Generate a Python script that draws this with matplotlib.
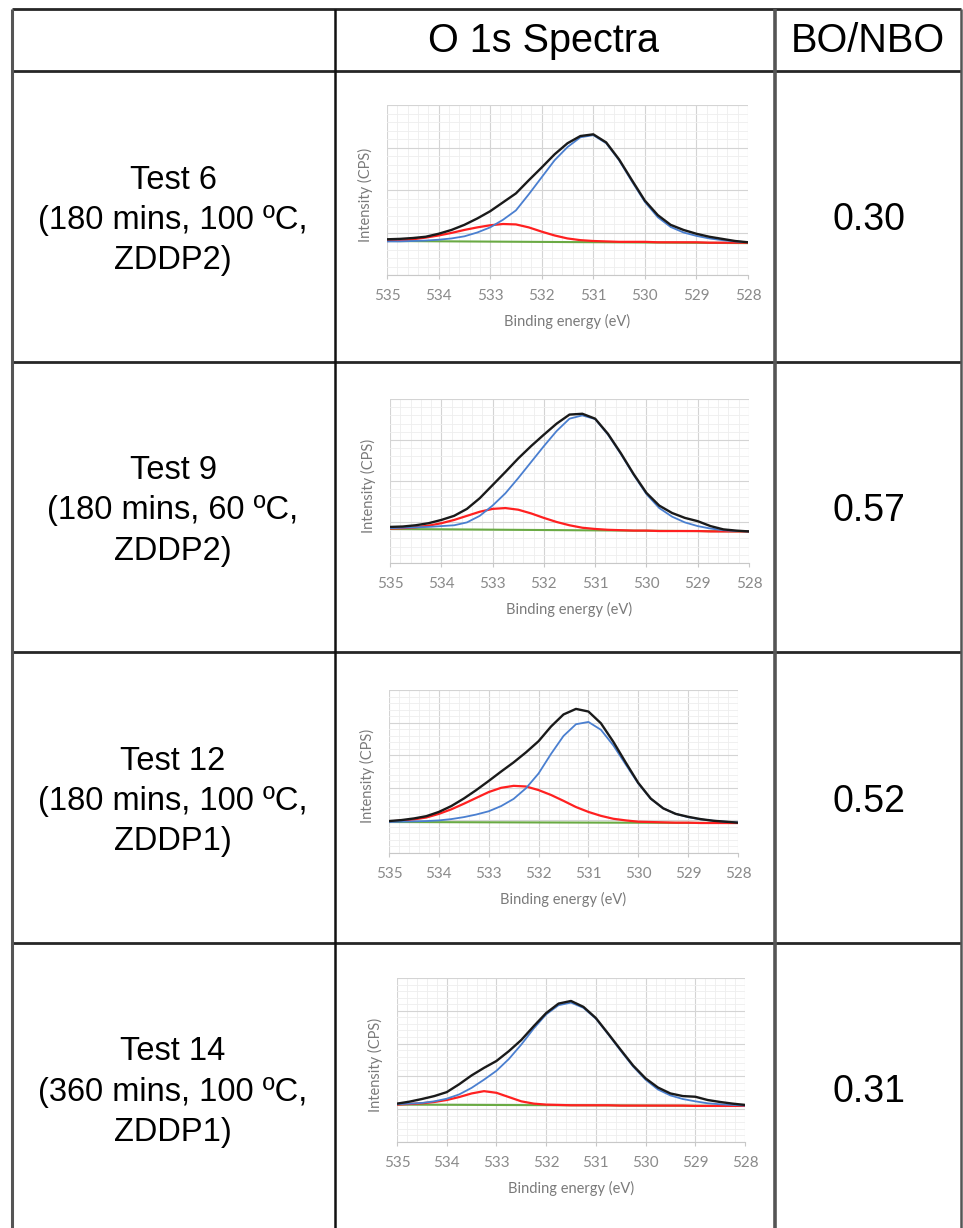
import matplotlib.pyplot as plt
from matplotlib.ticker import MultipleLocator

# binding energy grid (eV)
energy = [535.0, 534.75, 534.5, 534.25, 534.0, 533.75, 533.5, 533.25, 533.0,
          532.75, 532.5, 532.25, 532.0, 531.75, 531.5, 531.25, 531.0, 530.75,
          530.5, 530.25, 530.0, 529.75, 529.5, 529.25, 529.0, 528.75, 528.5,
          528.25, 528.0]

# Test 6
black1 = [0.84, 0.85, 0.87, 0.90, 0.97, 1.06, 1.18, 1.33, 1.50, 1.71, 1.92, 2.23, 2.53, 2.84, 3.10,
          3.27, 3.31, 3.12, 2.72, 2.23, 1.75, 1.41, 1.18, 1.06, 0.97, 0.90, 0.85, 0.80, 0.77]
blue1 = [0.79, 0.79, 0.80, 0.81, 0.83, 0.86, 0.91, 1.00, 1.12, 1.30, 1.52, 1.90, 2.30, 2.70, 3.01,
         3.24, 3.29, 3.10, 2.70, 2.20, 1.72, 1.36, 1.13, 1.00, 0.92, 0.86, 0.82, 0.79, 0.77]
red1 = [0.80, 0.81, 0.84, 0.88, 0.93, 0.99, 1.06, 1.12, 1.17, 1.20, 1.19, 1.12, 1.02, 0.93, 0.86,
        0.82, 0.80, 0.79, 0.78, 0.78, 0.78, 0.77, 0.77, 0.77, 0.77, 0.76, 0.76, 0.76, 0.76]
green1 = [0.80, 0.75]

# Test 9
black2 = [0.88, 0.89, 0.92, 0.97, 1.05, 1.15, 1.32, 1.58, 1.90, 2.22, 2.55, 2.85, 3.13, 3.40, 3.62,
          3.64, 3.52, 3.15, 2.68, 2.17, 1.71, 1.40, 1.22, 1.10, 1.02, 0.90, 0.82, 0.79, 0.77]
blue2 = [0.85, 0.86, 0.87, 0.88, 0.90, 0.92, 0.99, 1.15, 1.40, 1.70, 2.07, 2.46, 2.85, 3.22, 3.52,
         3.60, 3.51, 3.13, 2.66, 2.15, 1.68, 1.34, 1.13, 0.99, 0.90, 0.84, 0.80, 0.78, 0.77]
red2 = [0.84, 0.85, 0.87, 0.91, 0.97, 1.05, 1.15, 1.25, 1.32, 1.34, 1.30, 1.21, 1.10, 1.00, 0.92,
        0.86, 0.83, 0.81, 0.80, 0.79, 0.79, 0.78, 0.78, 0.78, 0.78, 0.77, 0.77, 0.77, 0.77]
green2 = [0.83, 0.77]

# Test 12
black3 = [0.98, 1.01, 1.06, 1.13, 1.26, 1.44, 1.67, 1.93, 2.21, 2.50, 2.78, 3.09, 3.43, 3.88, 4.25,
          4.42, 4.34, 3.98, 3.41, 2.77, 2.15, 1.67, 1.37, 1.20, 1.11, 1.04, 0.99, 0.96, 0.93]
blue3 = [0.95, 0.96, 0.97, 0.98, 1.00, 1.04, 1.10, 1.18, 1.28, 1.44, 1.66, 1.99, 2.44, 3.04, 3.59,
         3.95, 4.02, 3.78, 3.30, 2.71, 2.13, 1.66, 1.37, 1.20, 1.10, 1.03, 0.99, 0.96, 0.94]
red3 = [0.97, 0.99, 1.03, 1.09, 1.20, 1.34, 1.51, 1.69, 1.87, 2.00, 2.06, 2.04, 1.93, 1.78, 1.60,
        1.41, 1.26, 1.14, 1.05, 1.00, 0.96, 0.95, 0.94, 0.93, 0.93, 0.92, 0.92, 0.92, 0.92]
green3 = [0.95, 0.92]

# Test 14
black4 = [1.17, 1.23, 1.31, 1.40, 1.52, 1.76, 2.03, 2.26, 2.47, 2.77, 3.11, 3.53, 3.93, 4.22, 4.30,
          4.12, 3.78, 3.30, 2.81, 2.33, 1.94, 1.66, 1.48, 1.40, 1.38, 1.28, 1.22, 1.17, 1.13]
blue4 = [1.15, 1.17, 1.19, 1.24, 1.32, 1.45, 1.65, 1.90, 2.17, 2.53, 2.97, 3.46, 3.89, 4.17, 4.25,
         4.09, 3.76, 3.28, 2.78, 2.30, 1.90, 1.60, 1.42, 1.31, 1.24, 1.18, 1.15, 1.13, 1.11]
red4 = [1.14, 1.16, 1.18, 1.22, 1.28, 1.37, 1.48, 1.55, 1.50, 1.37, 1.24, 1.17, 1.14, 1.13, 1.12,
        1.12, 1.12, 1.12, 1.11, 1.11, 1.11, 1.11, 1.11, 1.11, 1.10, 1.10, 1.10, 1.10, 1.10]
green4 = [1.14, 1.10]

tests = ['Test 6', 'Test 9', 'Test 12', 'Test 14']
durations = ['180', '180', '180', '360']
temps = ['100', '60', '100', '100']
additives = ['ZDDP2', 'ZDDP2', 'ZDDP1', 'ZDDP1']
bo_nbo = ['0.30', '0.57', '0.52', '0.31']
y_max = [4, 4, 5, 5]
x_ticks = [535, 534, 533, 532, 531, 530, 529, 528]

spectra = [(black1, blue1, red1, green1), (black2, blue2, red2, green2),
           (black3, blue3, red3, green3), (black4, blue4, red4, green4)]

W, H = 963, 1228
fig = plt.figure(figsize=(W / 100, H / 100), dpi=100)

# table drawn in pixel coordinates
bg = fig.add_axes([0, 0, 1, 1])
bg.set_xlim(0, W)
bg.set_ylim(H, 0)
bg.axis('off')

col_x = [12, 335, 775, 961]
row_y = [9, 71, 362, 652, 943]
for y in row_y:
    bg.plot([col_x[0], col_x[-1]], [y, y], color='#262626', lw=2.0, solid_capstyle='butt')
for x, c, lw in zip(col_x, ['#555555', '#111111', '#555555', '#555555'], [2.2, 1.8, 2.6, 1.8]):
    bg.plot([x, x], [row_y[0], H + 5], color=c, lw=lw, solid_capstyle='butt')

tfont = 'Liberation Sans'
bg.text(544, 41, 'O 1s Spectra', ha='center', va='center', fontsize=28.5, family=tfont)
bg.text(868, 41, 'BO/NBO', ha='center', va='center', fontsize=28.5, family=tfont)

row_bottom = row_y[2:] + [1233]
for i in range(4):
    yc = (row_y[i + 1] + row_bottom[i]) / 2 + 4
    label = f'{tests[i]}\n({durations[i]} mins, {temps[i]} ºC,\n{additives[i]})'
    bg.text(173, yc, label, ha='center', va='center', fontsize=23.5,
            family=tfont, linespacing=1.38)
    bg.text(869, yc, bo_nbo[i], ha='center', va='center', fontsize=27, family=tfont)

# spectra panels, pixel boxes (left, top, right, bottom)
boxes = [(387, 105, 748, 275), (390, 399, 749, 563),
         (389, 690, 738, 853), (397, 978, 745, 1142)]

for i, (black, blue, red, green) in enumerate(spectra):
    x0, y0, x1, y1 = boxes[i]
    ax = fig.add_axes([x0 / W, 1 - y1 / H, (x1 - x0) / W, (y1 - y0) / H])
    ax.plot([energy[0], energy[-1]], green, color='#6aaa44', lw=1.5)
    ax.plot(energy, red, color='#ff2020', lw=1.6)
    ax.plot(energy, blue, color='#4a7fd0', lw=1.3)
    ax.plot(energy, black, color='#1a1a1a', lw=1.7)
    ax.set_xlim(535, 528)
    ax.set_ylim(0, y_max[i])
    ax.set_xticks(x_ticks)
    ax.set_xticklabels([str(t) for t in x_ticks])
    ax.set_yticks(range(y_max[i] + 1))
    ax.xaxis.set_minor_locator(MultipleLocator(0.2))
    ax.yaxis.set_minor_locator(MultipleLocator(0.2))
    ax.grid(which='major', color='#d4d4d4', lw=0.8)
    ax.grid(which='minor', color='#eeeeee', lw=0.6)
    ax.set_axisbelow(True)
    ax.tick_params(axis='y', which='both', left=False, labelleft=False)
    ax.tick_params(axis='x', which='minor', bottom=False)
    ax.tick_params(axis='x', which='major', length=3, color='#c8c8c8', pad=7,
                   labelsize=11, labelcolor='#8a8a8a')
    for lab in ax.get_xticklabels():
        lab.set_family('Lato')
    for s in ['top', 'right', 'left']:
        ax.spines[s].set_visible(False)
    ax.spines['bottom'].set_color('#c8c8c8')
    ax.set_xlabel('Binding energy (eV)', fontsize=10.5, color='#7a7a7a', family='Lato')
    ax.xaxis.label.set_va('center')
    ax.xaxis.set_label_coords(0.5, -46 / (y1 - y0))
    ax.set_ylabel('Intensity (CPS)', fontsize=10.5, color='#7a7a7a', family='Lato')
    ax.yaxis.label.set_va('center')
    ax.yaxis.set_label_coords(-22 / (x1 - x0), 0.47)

fig.savefig('out.png', dpi=100)
